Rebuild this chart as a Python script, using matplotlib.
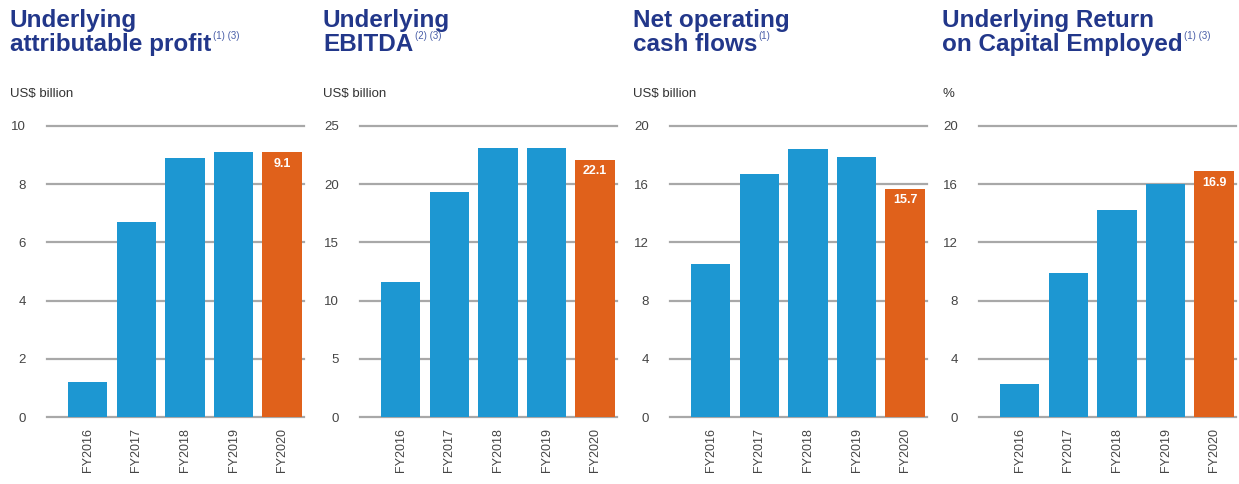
import matplotlib
matplotlib.use("Agg")
import matplotlib.pyplot as plt

years = ["FY2016", "FY2017", "FY2018", "FY2019", "FY2020"]

profit = [1.2, 6.7, 8.9, 9.1, 9.1]
ebitda = [11.6, 19.3, 23.1, 23.1, 22.1]
cash_flows = [10.5, 16.7, 18.4, 17.9, 15.7]
roce = [2.3, 9.9, 14.2, 16.0, 16.9]

titles = [
    ("Underlying", "attributable profit", "(1) (3)"),
    ("Underlying", "EBITDA", "(2) (3)"),
    ("Net operating", "cash flows", "(1)"),
    ("Underlying Return", "on Capital Employed", "(1) (3)"),
]
units = ["US$ billion", "US$ billion", "US$ billion", "%"]
ymax = [10, 25, 20, 20]
ystep = [2, 5, 4, 4]

BLUE = "#1d97d2"
ORANGE = "#e0611b"
NAVY = "#22378a"
GREY_TXT = "#444444"
GRID = "#a8a8a8"

W, H = 1239, 484
fig = plt.figure(figsize=(W / 100, H / 100), dpi=100)
plt.rcParams["font.family"] = ["Liberation Sans", "DejaVu Sans"]

lefts = [47, 360, 670, 979]
ax_w = 257
y0, y1 = 417, 126

series = [profit, ebitda, cash_flows, roce]

for i, vals in enumerate(series):
    left = lefts[i]
    ax = fig.add_axes([left / W, (H - y0) / H, ax_w / W, (y0 - y1) / H])
    x = range(len(years))
    colors = [BLUE] * (len(years) - 1) + [ORANGE]
    bars = ax.bar(x, vals, width=0.81, color=colors, zorder=3)
    ax.set_xlim(-0.84, 4.45)
    ax.set_ylim(0, ymax[i])
    ticks = list(range(0, ymax[i] + 1, ystep[i]))
    ax.set_yticks(ticks)
    ax.set_yticklabels([str(t) for t in ticks])
    for t in ticks:
        ax.axhline(t, color=GRID, lw=1.6, zorder=1, clip_on=False)
    for s in ax.spines.values():
        s.set_visible(False)
    ax.tick_params(axis="y", length=0, pad=15, labelsize=9.5, labelcolor=GREY_TXT)
    ax.tick_params(axis="x", length=0, pad=8, labelsize=9, labelcolor=GREY_TXT)
    ax.set_xticks(list(x))
    ax.set_xticklabels(years, rotation=90, va="top", ha="center")

    # value label on the latest year
    last = bars[-1]
    ax.annotate(f"{vals[-1]:.1f}", xy=(last.get_x() + last.get_width() / 2, vals[-1]),
                xytext=(0, -4), textcoords="offset points", ha="center", va="top",
                color="white", fontsize=9, fontweight="bold", zorder=4)

    # titles and unit label
    tx = (left - 37) / W
    fig.text(tx, (H - 27) / H, titles[i][0], fontsize=17.5, fontweight="bold",
             color=NAVY, va="baseline")
    t2 = fig.text(tx, (H - 51) / H, titles[i][1], fontsize=17.5, fontweight="bold",
                  color=NAVY, va="baseline")
    plt.annotate(titles[i][2], xy=(1, 0.72), xycoords=t2, xytext=(1, 0),
                 textcoords="offset points", fontsize=7, color="#4a5fa8",
                 ha="left", va="baseline")
    fig.text(tx, (H - 97) / H, units[i], fontsize=9.5, color="#333333",
             va="baseline")

fig.savefig("out.png", dpi=100, facecolor="white")
